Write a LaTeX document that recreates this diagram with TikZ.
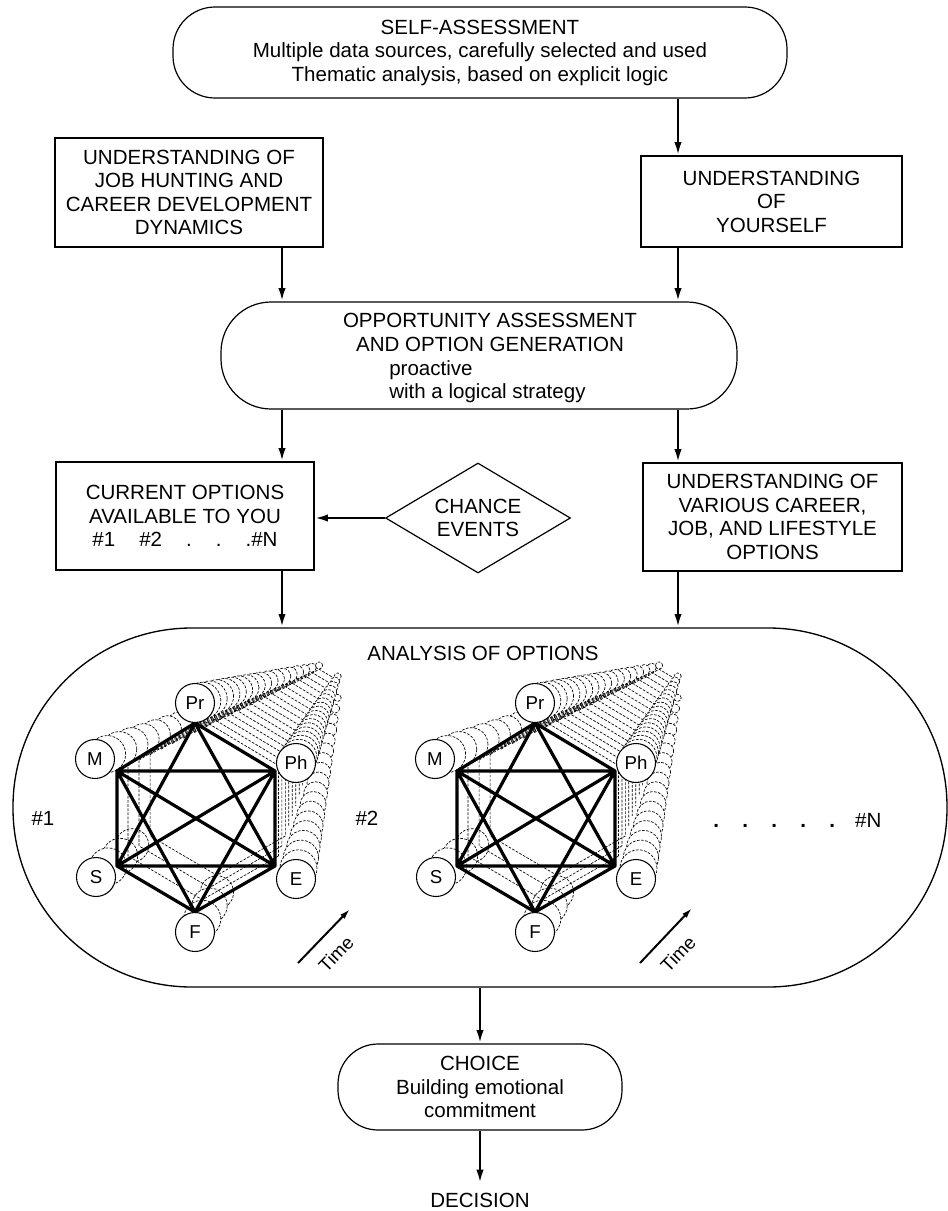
\documentclass[tikz,border=0pt]{standalone}
\usepackage{fontspec}
\setmainfont{Liberation Sans}
\usetikzlibrary{arrows.meta,calc,shapes.geometric}
\begin{document}
\begin{tikzpicture}[x=0.75pt,y=-0.75pt,
  every node/.style={font=\fontsize{15.4}{17.6}\selectfont},
  box/.style={draw, line width=0.9pt, align=center, inner sep=0pt},
  flow/.style={line width=1.8pt, -{Latex[length=10pt,width=5.5pt]}},
  edge/.style={line width=2.4pt, line cap=round},
  ghost/.style={draw, fill=white, line width=0.5pt, dash pattern=on 2pt off 1.1pt},
  ghostline/.style={line width=0.5pt, dash pattern=on 2pt off 1.1pt},
  vtx/.style={circle, draw, fill=white, line width=0.8pt, minimum size=29.25pt, inner sep=0pt, font=\fontsize{14}{16}\selectfont},
  lbl/.style={inner sep=0pt, anchor=base},
  timearrow/.style={line width=1.5pt, -{Latex[length=8pt,width=4.5pt]}},
  timelbl/.style={rotate=46, inner sep=0pt, font=\fontsize{14}{16}\selectfont},
]
\useasboundingbox (0,0) rectangle (948,1211);

% ---------- boxes ----------
\node[box, rounded corners=31.5pt, minimum width=460.5pt, minimum height=68.25pt] (top) at (480,52.5)
  {SELF-ASSESSMENT\\Multiple data sources, carefully selected and used\\Thematic analysis, based on explicit logic};
\node[box, minimum width=201pt, minimum height=81.75pt] (left) at (189,192.5)
  {UNDERSTANDING OF\\JOB HUNTING AND\\CAREER DEVELOPMENT\\DYNAMICS};
\node[box, minimum width=195.75pt, minimum height=68.25pt] (you) at (771.5,201.5)
  {UNDERSTANDING\\OF\\YOURSELF};
\node[box, rounded corners=37.5pt, minimum width=387pt, minimum height=80.25pt] (opp) at (479,355.5) {};
\node[lbl] (opp1) at (490,327) {OPPORTUNITY ASSESSMENT};
\node[lbl] (opp2) at (490,351) {AND OPTION GENERATION};
\node[lbl, anchor=base west] (opp3) at (389,375) {proactive};
\node[lbl, anchor=base west] (opp4) at (389,398) {with a logical strategy};
\node[box, minimum width=193.5pt, minimum height=81pt] (cur) at (185,516)
  {CURRENT OPTIONS\\AVAILABLE TO YOU\\\#1\hspace{18pt}\#2\hspace{18pt}.\hspace{18pt}.\hspace{18pt}.\#N};
\node[box, diamond, shape aspect=1.7, minimum width=138.75pt, minimum height=82.5pt] (chance) at (478,518)
  {CHANCE\\EVENTS};
\node[box, minimum width=194.25pt, minimum height=81pt] (rop) at (772.5,517)
  {UNDERSTANDING OF\\VARIOUS CAREER,\\JOB, AND LIFESTYLE\\OPTIONS};
\node[box, line width=1pt, rounded corners=134pt, minimum width=700.5pt, minimum height=269.25pt] (an) at (480,807.5) {};
\node[box, rounded corners=30pt, minimum width=213pt, minimum height=64.5pt] (choice) at (480,1087)
  {CHOICE\\Building emotional\\commitment};
\node[lbl, inner sep=7pt] (dec) at (480,1207) {DECISION};

% ---------- connectors ----------
\coordinate (colL) at (282,0);
\coordinate (colR) at (678,0);
\draw[flow] (top.south -| colR) -- (you.north -| colR);
\draw[flow] (left.south -| colL) -- (opp.north -| colL);
\draw[flow] (you.south -| colR) -- (opp.north -| colR);
\draw[flow] (opp.south -| colL) -- (cur.north -| colL);
\draw[flow] (opp.south -| colR) -- (rop.north -| colR);
\draw[flow] (chance.west) -- (chance.west -| cur.east);
\draw[flow] (cur.south -| colL) -- (an.north -| colL);
\draw[flow] (rop.south -| colR) -- (an.north -| colR);
\draw[flow] (an.south) -- (choice.north);
\draw[flow] (choice.south) -- (dec.north);

% ---------- hexagon geometry ----------
\foreach \h/\dx in {1/0,2/340}{
 \begin{scope}[shift={(\dx,0)}]
  \coordinate (VP\h) at (347,657);
  \coordinate (vPr\h) at (195,723);
  \coordinate (vM\h) at (117,771);
  \coordinate (vPh\h) at (275,771);
  \coordinate (vS\h) at (117,866);
  \coordinate (vE\h) at (275,866);
  \coordinate (vF\h) at (195,912);
  \coordinate (cPr\h) at (195,703);
  \coordinate (cM\h) at (95,759);
  \coordinate (cPh\h) at (296,763);
  \coordinate (cS\h) at (96,877);
  \coordinate (cE\h) at (296,879);
  \coordinate (cF\h) at (195,932);
 \end{scope}
}

% ---------- receding copies (time) ----------
\foreach \h in {1,2}{
 \foreach \k in {17,16,...,1}{
   \pgfmathsetmacro{\s}{1-0.048*\k}
   \draw[ghostline] ($(VP\h)!\s!(vM\h)$) -- ($(VP\h)!\s!(vPr\h)$) -- ($(VP\h)!\s!(vPh\h)$) -- ($(VP\h)!\s!(vE\h)$);
   \ifnum\k<4
     \draw[ghostline] ($(VP\h)!\s!(vE\h)$) -- ($(VP\h)!\s!(vF\h)$) -- ($(VP\h)!\s!(vS\h)$) -- ($(VP\h)!\s!(vM\h)$);
     \path[ghost] ($(VP\h)!\s!(cS\h)$) circle[radius={\s*14.6pt}];
     \path[ghost] ($(VP\h)!\s!(cF\h)$) circle[radius={\s*14.6pt}];
   \fi
   \path[ghost] ($(VP\h)!\s!(cE\h)$) circle[radius={\s*14.6pt}];
   \path[ghost] ($(VP\h)!\s!(cM\h)$) circle[radius={\s*14.6pt}];
   \path[ghost] ($(VP\h)!\s!(cPh\h)$) circle[radius={\s*14.6pt}];
   \path[ghost] ($(VP\h)!\s!(cPr\h)$) circle[radius={\s*14.6pt}];
 }
}

% ---------- main hexagons ----------
\foreach \h in {1,2}{
 \draw[edge] (vPr\h)--(vM\h) (vPr\h)--(vPh\h) (vM\h)--(vS\h) (vPh\h)--(vE\h)
   (vS\h)--(vF\h) (vE\h)--(vF\h) (vM\h)--(vPh\h) (vS\h)--(vE\h)
   (vPr\h)--(vS\h) (vPr\h)--(vE\h) (vF\h)--(vM\h) (vF\h)--(vPh\h)
   (vM\h)--(vE\h) (vS\h)--(vPh\h);
 \node[vtx] (Pr\h) at (cPr\h) {Pr};
 \node[vtx] (M\h) at (cM\h) {M};
 \node[vtx] (Ph\h) at (cPh\h) {Ph};
 \node[vtx] (S\h) at (cS\h) {S};
 \node[vtx] (E\h) at (cE\h) {E};
 \node[vtx] (F\h) at (cF\h) {F};
}

% ---------- labels inside analysis ----------
\node[lbl] (antitle) at (483,660) {ANALYSIS OF OPTIONS};
\node[lbl] (o1) at (43,825) {\#1};
\node[lbl] (o2) at (367,825) {\#2};
\node[lbl, anchor=base west] (oN) at (713,827) {\textbf{.}\hspace{17.5pt}\textbf{.}\hspace{17.5pt}\textbf{.}\hspace{17.5pt}\textbf{.}\hspace{17.5pt}\textbf{.}\hspace{15pt}\#N};

% ---------- time arrows ----------
\coordinate (t1a) at (298,963);
\coordinate (t1b) at (350,909);
\coordinate (t2a) at (640,963);
\coordinate (t2b) at (692,908);
\draw[timearrow] (t1a) -- (t1b);
\draw[timearrow] (t2a) -- (t2b);
\node[timelbl] (time1) at (336,954) {Time};
\node[timelbl] (time2) at (678,954) {Time};
\end{tikzpicture}
\end{document}
